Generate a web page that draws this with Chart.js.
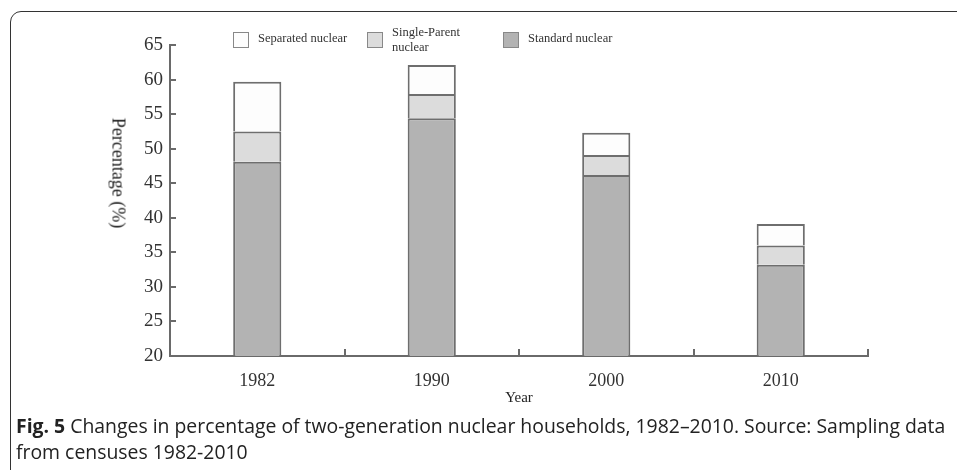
<!DOCTYPE html>
<html>
<head>
<meta charset="utf-8">
<script src="https://cdn.jsdelivr.net/npm/chart.js@4.4.1/dist/chart.umd.min.js"></script>
<style>
  html, body { margin: 0; padding: 0; background: #fff; overflow: hidden; }
  #wrap { position: relative; width: 957px; height: 470px; overflow: hidden; }
  #frame { position: absolute; left: 10px; top: 11px; width: 980px; height: 500px;
           border: 1.5px solid #333; border-radius: 11px; box-sizing: border-box; }
  #chart { position: absolute; left: 0; top: 0; }
  .leg { position: absolute; top: 31px; display: flex; align-items: flex-start;
         font-family: "Liberation Serif", serif; font-size: 12.5px; color: #333; line-height: 15px; }
  .leg .box { width: 14px; height: 14px; border: 1.5px solid #888; margin-right: 9px; margin-top: 1px; }
  #ytitle { position: absolute; left: 118px; top: 173px; transform: translate(-50%, -50%) rotate(90deg);
            font-family: "Liberation Serif", serif; font-size: 18px; color: #222; white-space: nowrap; }
  #caption { position: absolute; left: 16px; top: 413px; font-family: "Open Sans", sans-serif;
             font-size: 19.4px; line-height: 26px; color: #222; white-space: nowrap; }
</style>
</head>
<body>
<div id="wrap">
  <div id="frame"></div>
  <canvas id="chart" width="957" height="470"></canvas>
  <div id="legend"></div>
  <div id="ytitle">Percentage (%)</div>
  <div id="caption"><b>Fig. 5</b> Changes in percentage of two-generation nuclear households, 1982–2010. Source: Sampling data<br>from censuses 1982-2010</div>
</div>
<script>
// data (percent of households)
const years = ['1982', '1990', '2000', '2010'];
const standardNuclear = [48.1, 54.4, 46.2, 33.2];
const singleParentNuclear = [4.4, 3.5, 2.9, 2.8];
const separatedNuclear = [7.2, 4.2, 3.2, 3.1];
const yMin = 20, yMax = 65, yStep = 5;

// legend order as in the picture: top segment first
const legendLabels = [['Separated nuclear'], ['Single-Parent', 'nuclear'], ['Standard nuclear']];

const axisColor = '#6a6a6a';
const serif = 'Liberation Serif';

// short tick marks pointing into the plot
const innerTicks = {
    id: 'innerTicks',
    afterDraw(chart) {
        const { ctx, chartArea, scales: { x, y } } = chart;
        ctx.save();
        ctx.strokeStyle = axisColor;
        ctx.lineWidth = 2;
        ctx.beginPath();
        y.ticks.forEach(t => {
            const py = Math.round(y.getPixelForValue(t.value));
            ctx.moveTo(chartArea.left, py);
            ctx.lineTo(chartArea.left + 6, py);
        });
        for (let i = 1; i <= years.length; i++) {
            const px = Math.round(x.getPixelForValue(i - 0.5));
            ctx.moveTo(px, chartArea.bottom);
            ctx.lineTo(px, chartArea.bottom - 7);
        }
        ctx.stroke();
        ctx.restore();
    }
};

const ctx = document.getElementById('chart').getContext('2d');
const chart = new Chart(ctx, {
    type: 'bar',
    data: {
        labels: years,
        datasets: [{
            label: 'Standard nuclear',
            data: standardNuclear,
            backgroundColor: '#b3b3b3'
        }, {
            label: 'Single-Parent nuclear',
            data: singleParentNuclear,
            backgroundColor: '#dcdcdc'
        }, {
            label: 'Separated nuclear',
            data: separatedNuclear,
            backgroundColor: '#fdfdfd'
        }]
    },
    options: {
        responsive: false,
        animation: false,
        devicePixelRatio: 1,
        datasets: {
            bar: {
                borderColor: '#6e6e6e',
                borderWidth: 2,
                borderSkipped: 'start',
                categoryPercentage: 1,
                barPercentage: 0.276
            }
        },
        layout: {
            padding: { left: 130, top: 45, right: 89, bottom: 63 }
        },
        scales: {
            x: {
                stacked: true,
                afterFit: s => { s.height = 51; },
                grid: { display: false, drawTicks: false },
                border: { color: axisColor, width: 2 },
                ticks: { color: '#333', padding: 14, font: { family: serif, size: 18 } },
                title: {
                    display: true,
                    text: 'Year',
                    color: '#222',
                    padding: 0,
                    font: { family: serif, size: 15 }
                }
            },
            y: {
                stacked: true,
                min: yMin,
                max: yMax,
                afterFit: s => { s.width = 40; },
                grid: { display: false, drawTicks: false },
                border: { color: axisColor, width: 2 },
                ticks: { stepSize: yStep, color: '#333', padding: 7, font: { family: serif, size: 19 } }
            }
        },
        plugins: {
            legend: { display: false },
            tooltip: { enabled: false }
        }
    },
    plugins: [innerTicks]
});

// html legend so the middle label can wrap on two lines
const legendLeft = [233, 367, 503];
const legendEl = document.getElementById('legend');
chart.data.datasets.slice().reverse().forEach((ds, i) => {
    const item = document.createElement('div');
    item.className = 'leg';
    item.style.left = legendLeft[i] + 'px';
    const box = document.createElement('div');
    box.className = 'box';
    box.style.background = ds.backgroundColor;
    const txt = document.createElement('div');
    txt.innerHTML = legendLabels[i].join('<br>');
    if (legendLabels[i].length > 1) txt.style.marginTop = '-6px';
    item.appendChild(box);
    item.appendChild(txt);
    legendEl.appendChild(item);
});
</script>
</body>
</html>
